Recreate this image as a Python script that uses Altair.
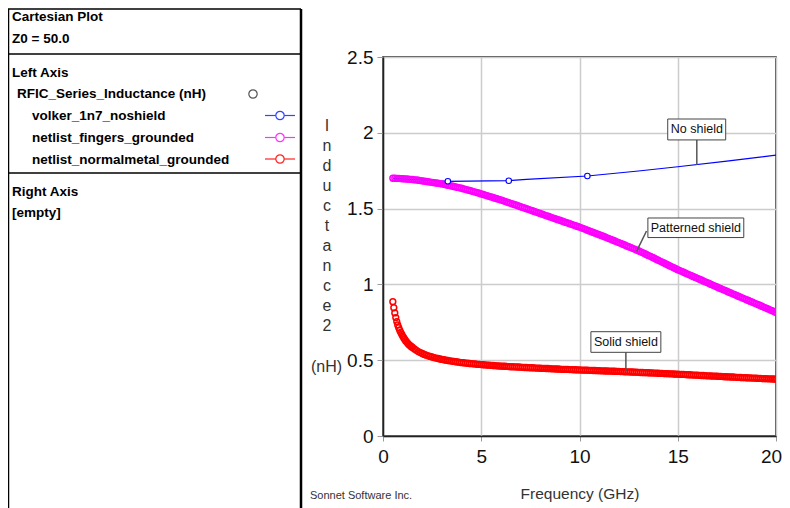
import altair as alt
import pandas as pd

# ---------------- data ----------------
FREQ_FINGERS = [
    0.5, 0.6, 0.7, 0.8, 0.9, 1.0,
    1.1, 1.2, 1.3, 1.4, 1.5, 1.6, 1.7, 1.8, 1.9, 2.0,
    2.1, 2.2, 2.3, 2.4, 2.5, 2.6, 2.7, 2.8, 2.9, 3.0,
    3.1, 3.2, 3.3, 3.4, 3.5, 3.6, 3.7, 3.8, 3.9, 4.0,
    4.1, 4.2, 4.3, 4.4, 4.5, 4.6, 4.7, 4.8, 4.9, 5.0,
    5.1, 5.2, 5.3, 5.4, 5.5, 5.6, 5.7, 5.8, 5.9, 6.0,
    6.1, 6.2, 6.3, 6.4, 6.5, 6.6, 6.7, 6.8, 6.9, 7.0,
    7.1, 7.2, 7.3, 7.4, 7.5, 7.6, 7.7, 7.8, 7.9, 8.0,
    8.1, 8.2, 8.3, 8.4, 8.5, 8.6, 8.7, 8.8, 8.9, 9.0,
    9.1, 9.2, 9.3, 9.4, 9.5, 9.6, 9.7, 9.8, 9.9, 10.0,
    10.1, 10.2, 10.3, 10.4, 10.5, 10.6, 10.7, 10.8, 10.9, 11.0,
    11.1, 11.2, 11.3, 11.4, 11.5, 11.6, 11.7, 11.8, 11.9, 12.0,
    12.1, 12.2, 12.3, 12.4, 12.5, 12.6, 12.7, 12.8, 12.9, 13.0,
    13.1, 13.2, 13.3, 13.4, 13.5, 13.6, 13.7, 13.8, 13.9, 14.0,
    14.1, 14.2, 14.3, 14.4, 14.5, 14.6, 14.7, 14.8, 14.9, 15.0,
    15.1, 15.2, 15.3, 15.4, 15.5, 15.6, 15.7, 15.8, 15.9, 16.0,
    16.1, 16.2, 16.3, 16.4, 16.5, 16.6, 16.7, 16.8, 16.9, 17.0,
    17.1, 17.2, 17.3, 17.4, 17.5, 17.6, 17.7, 17.8, 17.9, 18.0,
    18.1, 18.2, 18.3, 18.4, 18.5, 18.6, 18.7, 18.8, 18.9, 19.0,
    19.1, 19.2, 19.3, 19.4, 19.5, 19.6, 19.7, 19.8, 19.9, 20.0,
]
IND_FINGERS = [
    1.700, 1.700, 1.699, 1.699, 1.698, 1.697,
    1.696, 1.695, 1.694, 1.693, 1.692, 1.690, 1.689, 1.687, 1.685, 1.683,
    1.681, 1.679, 1.677, 1.675, 1.673, 1.671, 1.669, 1.667, 1.665, 1.663,
    1.660, 1.657, 1.654, 1.652, 1.649, 1.646, 1.643, 1.640, 1.637, 1.634,
    1.630, 1.627, 1.623, 1.620, 1.616, 1.612, 1.609, 1.605, 1.601, 1.597,
    1.593, 1.589, 1.585, 1.581, 1.577, 1.573, 1.569, 1.565, 1.561, 1.557,
    1.553, 1.548, 1.544, 1.539, 1.535, 1.531, 1.526, 1.522, 1.517, 1.513,
    1.508, 1.504, 1.499, 1.495, 1.490, 1.486, 1.481, 1.477, 1.472, 1.468,
    1.463, 1.459, 1.454, 1.450, 1.445, 1.441, 1.436, 1.432, 1.427, 1.423,
    1.418, 1.414, 1.409, 1.405, 1.400, 1.396, 1.391, 1.387, 1.382, 1.378,
    1.373, 1.368, 1.363, 1.358, 1.353, 1.348, 1.343, 1.338, 1.333, 1.328,
    1.323, 1.318, 1.313, 1.307, 1.302, 1.297, 1.292, 1.287, 1.281, 1.276,
    1.271, 1.265, 1.260, 1.254, 1.249, 1.244, 1.238, 1.233, 1.227, 1.222,
    1.216, 1.210, 1.204, 1.197, 1.191, 1.185, 1.179, 1.173, 1.166, 1.160,
    1.154, 1.147, 1.141, 1.135, 1.128, 1.122, 1.116, 1.110, 1.103, 1.097,
    1.091, 1.086, 1.080, 1.074, 1.068, 1.063, 1.057, 1.051, 1.046, 1.040,
    1.034, 1.029, 1.023, 1.017, 1.012, 1.006, 1.000, 0.994, 0.989, 0.983,
    0.977, 0.972, 0.966, 0.961, 0.955, 0.949, 0.944, 0.938, 0.933, 0.927,
    0.921, 0.916, 0.910, 0.905, 0.899, 0.894, 0.888, 0.883, 0.877, 0.872,
    0.866, 0.861, 0.855, 0.849, 0.844, 0.838, 0.832, 0.827, 0.821, 0.815,
]

FREQ_NORMAL = [
    0.5, 0.55, 0.6, 0.65, 0.7, 0.75, 0.8, 0.85, 0.9, 0.95, 1.0,
    1.05, 1.1, 1.15, 1.2, 1.25, 1.3, 1.35, 1.4, 1.45, 1.5,
    1.6, 1.7, 1.8, 1.9, 2.0,
    2.1, 2.2, 2.3, 2.4, 2.5, 2.6, 2.7, 2.8, 2.9, 3.0,
    3.1, 3.2, 3.3, 3.4, 3.5, 3.6, 3.7, 3.8, 3.9, 4.0,
    4.1, 4.2, 4.3, 4.4, 4.5, 4.6, 4.7, 4.8, 4.9, 5.0,
    5.1, 5.2, 5.3, 5.4, 5.5, 5.6, 5.7, 5.8, 5.9, 6.0,
    6.1, 6.2, 6.3, 6.4, 6.5, 6.6, 6.7, 6.8, 6.9, 7.0,
    7.1, 7.2, 7.3, 7.4, 7.5, 7.6, 7.7, 7.8, 7.9, 8.0,
    8.1, 8.2, 8.3, 8.4, 8.5, 8.6, 8.7, 8.8, 8.9, 9.0,
    9.1, 9.2, 9.3, 9.4, 9.5, 9.6, 9.7, 9.8, 9.9, 10.0,
    10.1, 10.2, 10.3, 10.4, 10.5, 10.6, 10.7, 10.8, 10.9, 11.0,
    11.1, 11.2, 11.3, 11.4, 11.5, 11.6, 11.7, 11.8, 11.9, 12.0,
    12.1, 12.2, 12.3, 12.4, 12.5, 12.6, 12.7, 12.8, 12.9, 13.0,
    13.1, 13.2, 13.3, 13.4, 13.5, 13.6, 13.7, 13.8, 13.9, 14.0,
    14.1, 14.2, 14.3, 14.4, 14.5, 14.6, 14.7, 14.8, 14.9, 15.0,
    15.1, 15.2, 15.3, 15.4, 15.5, 15.6, 15.7, 15.8, 15.9, 16.0,
    16.1, 16.2, 16.3, 16.4, 16.5, 16.6, 16.7, 16.8, 16.9, 17.0,
    17.1, 17.2, 17.3, 17.4, 17.5, 17.6, 17.7, 17.8, 17.9, 18.0,
    18.1, 18.2, 18.3, 18.4, 18.5, 18.6, 18.7, 18.8, 18.9, 19.0,
    19.1, 19.2, 19.3, 19.4, 19.5, 19.6, 19.7, 19.8, 19.9, 20.0,
]
IND_NORMAL = [
    0.886, 0.846, 0.812, 0.781, 0.755, 0.733, 0.714, 0.698, 0.684, 0.671, 0.659,
    0.648, 0.638, 0.629, 0.621, 0.613, 0.606, 0.600, 0.594, 0.589, 0.584,
    0.574, 0.565, 0.557, 0.550, 0.544,
    0.538, 0.533, 0.529, 0.525, 0.521, 0.517, 0.514, 0.511, 0.508, 0.505,
    0.503, 0.500, 0.498, 0.496, 0.494, 0.492, 0.490, 0.488, 0.486, 0.484,
    0.483, 0.481, 0.480, 0.478, 0.477, 0.476, 0.475, 0.473, 0.472, 0.471,
    0.470, 0.469, 0.468, 0.467, 0.466, 0.465, 0.464, 0.463, 0.462, 0.461,
    0.460, 0.460, 0.459, 0.458, 0.457, 0.457, 0.456, 0.455, 0.455, 0.454,
    0.453, 0.452, 0.452, 0.451, 0.450, 0.450, 0.449, 0.448, 0.448, 0.447,
    0.446, 0.446, 0.445, 0.445, 0.444, 0.443, 0.443, 0.442, 0.442, 0.441,
    0.440, 0.440, 0.439, 0.439, 0.438, 0.438, 0.437, 0.437, 0.436, 0.436,
    0.435, 0.435, 0.434, 0.434, 0.433, 0.433, 0.432, 0.432, 0.431, 0.431,
    0.430, 0.430, 0.429, 0.429, 0.428, 0.428, 0.427, 0.427, 0.426, 0.426,
    0.425, 0.425, 0.424, 0.423, 0.423, 0.422, 0.422, 0.421, 0.421, 0.420,
    0.419, 0.419, 0.418, 0.418, 0.417, 0.416, 0.416, 0.415, 0.415, 0.414,
    0.413, 0.413, 0.412, 0.411, 0.411, 0.410, 0.410, 0.409, 0.408, 0.408,
    0.407, 0.406, 0.406, 0.405, 0.404, 0.404, 0.403, 0.402, 0.402, 0.401,
    0.400, 0.399, 0.399, 0.398, 0.397, 0.397, 0.396, 0.395, 0.395, 0.394,
    0.393, 0.393, 0.392, 0.391, 0.391, 0.390, 0.389, 0.389, 0.388, 0.387,
    0.387, 0.386, 0.385, 0.385, 0.384, 0.383, 0.383, 0.382, 0.382, 0.381,
    0.380, 0.380, 0.379, 0.378, 0.378, 0.377, 0.377, 0.376, 0.376, 0.375,
]

# no-shield: sparse adaptive sweep (line) with markers at the discrete points
FREQ_NOSHIELD_LINE = [0.5, 3.3, 6.4, 7.3, 10.4, 13.0, 15.0, 17.5, 20.0]
IND_NOSHIELD_LINE = [1.700, 1.680, 1.684, 1.693, 1.715, 1.748, 1.776, 1.813, 1.853]
FREQ_NOSHIELD_PTS = [3.3, 6.4, 10.4]
IND_NOSHIELD_PTS = [1.680, 1.684, 1.715]

X_TICKS = [0, 5, 10, 15, 20]
Y_TICKS = [0, 0.5, 1, 1.5, 2, 2.5]

ANNOT_LABELS = ["No shield", "Patterned shield", "Solid shield"]
ANNOT_TEXT_F = [15.97, 15.92, 12.36]
ANNOT_TEXT_V = [2.022, 1.373, 0.620]
ANNOT_BOX_F1 = [14.49, 13.48, 10.58]
ANNOT_BOX_F2 = [17.44, 18.36, 14.14]
ANNOT_BOX_V1 = [2.091, 1.438, 0.688]
ANNOT_BOX_V2 = [1.953, 1.309, 0.552]
LEADER_F1 = [15.97, 13.41, 12.36]
LEADER_V1 = [1.953, 1.352, 0.552]
LEADER_F2 = [15.97, 12.91, 12.36]
LEADER_V2 = [1.788, 1.220, 0.424]

# ---------------- layout ----------------
OX, OY = 383, 57          # page position of plot origin
W, H = 393, 379
FONT = "Liberation Sans"

fingers = pd.DataFrame({"f": FREQ_FINGERS, "v": IND_FINGERS})
normal = pd.DataFrame({"f": FREQ_NORMAL, "v": IND_NORMAL})
nos_line = pd.DataFrame({"f": FREQ_NOSHIELD_LINE, "v": IND_NOSHIELD_LINE})
nos_pts = pd.DataFrame({"f": FREQ_NOSHIELD_PTS, "v": IND_NOSHIELD_PTS})
annot = pd.DataFrame({
    "label": ANNOT_LABELS, "f": ANNOT_TEXT_F, "v": ANNOT_TEXT_V,
    "bf1": ANNOT_BOX_F1, "bf2": ANNOT_BOX_F2, "bv1": ANNOT_BOX_V1, "bv2": ANNOT_BOX_V2,
    "lf1": LEADER_F1, "lv1": LEADER_V1, "lf2": LEADER_F2, "lv2": LEADER_V2,
})
one = pd.DataFrame({"a": [0]})

xscale = alt.Scale(domain=[0, 20], nice=False, zero=False)
yscale = alt.Scale(domain=[0, 2.5], nice=False, zero=False)

xaxis = alt.Axis(values=X_TICKS, format="d", labelFontSize=19, labelFont=FONT,
                 labelColor="#111", tickColor="#999", tickSize=5, tickWidth=1,
                 labelPadding=6, labelFlush=False,
                 labelOffset={"condition": {"test": "datum.value === 20", "value": -5}, "value": 0},
                 domainColor="#222", domainWidth=1.5,
                 grid=True, gridColor="#cccccc", gridWidth=1.5,
                 title="Frequency (GHz)", titleFont=FONT, titleFontSize=15.5,
                 titleFontWeight="normal", titleColor="#333", titlePadding=20)
yaxis = alt.Axis(values=Y_TICKS, format="~g", labelFontSize=19, labelFont=FONT,
                 labelColor="#111", tickColor="#999", tickSize=6, tickWidth=1,
                 labelPadding=4, labelFlush=False, domainColor="#222", domainWidth=1.5,
                 grid=True, gridColor="#cccccc", gridWidth=1.5, title=None)

X = alt.X("f:Q", scale=xscale, axis=xaxis)
Y = alt.Y("v:Q", scale=yscale, axis=yaxis)

blue_line = alt.Chart(nos_line).mark_line(color="#0000ff", strokeWidth=1.2, clip=True).encode(x=X, y=Y)
magenta = alt.Chart(fingers).mark_point(shape="circle", filled=False, color="#ff00ff",
                                        size=34, strokeWidth=1.5, opacity=1, clip=True).encode(x=X, y=Y)
blue_pts = alt.Chart(nos_pts).mark_point(shape="circle", filled=True, fill="white", stroke="#0000ff",
                                         size=30, strokeWidth=1.1, opacity=1, clip=True).encode(x=X, y=Y)
red = alt.Chart(normal).mark_point(shape="circle", filled=False, color="#ff0000",
                                   size=34, strokeWidth=1.5, opacity=1, clip=True).encode(x=X, y=Y)

leaders = alt.Chart(annot).mark_rule(color="#555", strokeWidth=1.5).encode(
    x=alt.X("lf1:Q", scale=xscale), x2="lf2:Q", y=alt.Y("lv1:Q", scale=yscale), y2="lv2:Q")
boxes = alt.Chart(annot).mark_rect(fill="white", stroke="#444", strokeWidth=1).encode(
    x=alt.X("bf1:Q", scale=xscale), x2="bf2:Q", y=alt.Y("bv1:Q", scale=yscale), y2="bv2:Q")
labels = alt.Chart(annot).mark_text(font=FONT, fontSize=12.5, color="#111", align="center",
                                    baseline="middle").encode(x=alt.X("f:Q", scale=xscale),
                                                              y=alt.Y("v:Q", scale=yscale), text="label:N")


def txt(s, px, py, size=13.5, weight="bold", color="#000", align="left"):
    return alt.Chart(one).mark_text(text=s, align=align, baseline="middle", fontSize=size,
                                    fontWeight=weight, color=color, font=FONT).encode(
        x=alt.value(px - OX), y=alt.value(py - OY + 0.06 * size))


def hline(x1, x2, y, w=1.5, color="#000"):
    return alt.Chart(one).mark_rule(strokeWidth=w, color=color).encode(
        x=alt.value(x1 - OX), x2=alt.value(x2 - OX), y=alt.value(y - OY))


def vline(x, y1, y2, w=1.5, color="#000"):
    return alt.Chart(one).mark_rule(strokeWidth=w, color=color).encode(
        x=alt.value(x - OX), y=alt.value(y1 - OY), y2=alt.value(y2 - OY))


def sym(px, py, color, line=True):
    layers = []
    if line:
        layers.append(hline(265, 295, py, w=1.2, color=color))
    layers.append(alt.Chart(one).mark_point(shape="circle", filled=True, fill="white", stroke=color,
                                            size=70, strokeWidth=1.2, opacity=1).encode(
        x=alt.value(px - OX), y=alt.value(py - OY)))
    return layers


panel = [
    hline(8, 301, 9), hline(8, 301, 54), hline(8, 301, 173),
    vline(8.5, 9, 508), vline(301, 9, 508, w=2.5),
    txt("Cartesian Plot", 12, 16), txt("Z0 = 50.0", 12, 38),
    txt("Left Axis", 12, 72), txt("RFIC_Series_Inductance (nH)", 17, 93),
    txt("volker_1n7_noshield", 32, 115.5), txt("netlist_fingers_grounded", 32, 137.5),
    txt("netlist_normalmetal_grounded", 32, 159),
    txt("Right Axis", 12, 191.5), txt("[empty]", 12, 212),
]
panel += sym(253, 94, "#555", line=False)
panel += sym(280, 115.5, "#3344ff")
panel += sym(280, 137.5, "#ff33ff")
panel += sym(280, 159, "#ff2222")

ytitle = alt.Chart(one).mark_text(text="I\nn\nd\nu\nc\nt\na\nn\nc\ne\n2", lineBreak="\n", lineHeight=20,
                                  align="center", baseline="top", fontSize=16, color="#333",
                                  font=FONT).encode(x=alt.value(327 - OX), y=alt.value(118 - OY))
ynh = txt("(nH)", 326.5, 366, size=16, weight="normal", color="#333", align="center")
sonnet = txt("Sonnet Software Inc.", 310, 495, size=11, weight="normal", color="#333")

chart = alt.layer(
    blue_line, magenta, blue_pts, red, leaders, boxes, labels,
    ytitle, ynh, sonnet, *panel
).properties(
    width=W, height=H, autosize="none", background="white",
    padding={"left": OX - 8, "top": OY - 8, "right": 6, "bottom": 508 - 8 - (OY - 8) - H},
).configure_view(stroke="#111", strokeWidth=1.5)

chart.save("out.html", embed_options={"renderer": "svg", "actions": False})
